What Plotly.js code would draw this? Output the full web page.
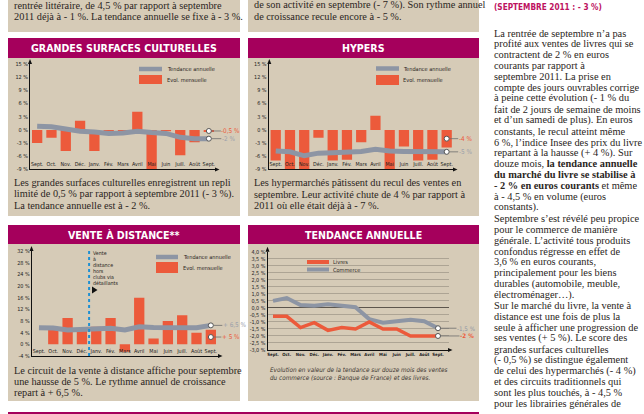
<!DOCTYPE html>
<html><head><meta charset="utf-8">
<script src="https://cdn.plot.ly/plotly-3.0.1.min.js"></script>
<style>html,body{margin:0;padding:0;background:#fff;overflow:hidden}#g{width:644px;height:414px}</style>
</head><body><div id="g"></div>
<script>
// ---------- data ----------
const months = ['Sept.','Oct.','Nov.','Déc.','Janv.','Fév.','Mars','Avril','Mai','Juin','Juill.','Août','Sept.'];
const gscMonthly = [-3,-1.8,-4.8,2.1,-4.8,-0.5,-0.5,4.1,-10,-0.3,-5.8,-2.8,-0.5];
const gscTrend   = [0.8,0.7,0.2,-0.3,-0.5,-0.8,-0.7,-0.3,-0.6,-0.8,-1.7,-2,-2];
const hypMonthly = [-7,-10,-10,-1.8,-7,-6.8,-2.8,3.2,-10,-3.8,-7,-6.8,-4];
const hypTrend   = [-4.8,-5,-5.9,-5.3,-5.2,-5.1,-4.9,-4.4,-4.8,-4.9,-4.9,-5,-5];
const vadMonthly = [null,5,9,5,6,9,-2.5,16,2,8,10,4,5];
const vadTrend   = [5.7,5.6,4.9,5.2,5.3,5.5,4.9,6,5.8,5.8,6.1,5.7,6.5];
const livres     = [-0.6,-0.6,-1.4,-1.05,-1.6,-1.4,-1.5,-1.0,-1.5,-1.5,-2,-2,-2];
const commerce   = [0.5,0.7,0.2,0.15,0.25,0.15,0.05,-0.8,-1.05,-0.95,-0.85,-0.95,-1.45];

const barTickVals = [15,12,9,6,3,0,-3,-6,-9];
const barTickText = ['15 %','12 %','9 %','6 %','3 %','0 %','-3 %','-6 %','-9 %'];
const vadTickVals = [32,28,24,20,16,12,8,4,0,-4];
const vadTickText = ['32 %','28 %','24 %','20 %','16 %','12 %','8 %','4 %','0 %','-4 %'];
const tendTickVals = [4,3.5,3,2.5,2,1.5,1,0.5,0,-0.5,-1,-1.5,-2,-2.5,-3];
const tendTickText = ['4,0 %','3,5 %','3,0 %','2,5 %','2,0 %','1,5 %','1,0 %','0,5 %','0,0 %','-0,5 %','-1,0 %','-1,5 %','-2,0 %','-2,5 %','-3,0 %'];

const topLeftLines = ['rentrée littéraire, de 4,5 % par rapport à septembre','2011 déjà à - 1 %. La tendance annuelle se fixe à - 3 %.'];
const topRightLines = ['de son activité en septembre (- 7 %). Son rythme annuel','de croissance recule encore à - 5 %.'];
const gscLines = ['Les grandes surfaces culturelles enregistrent un repli','limité de 0,5 % par rapport à septembre 2011 (- 3 %).','La tendance annuelle est à - 2 %.'];
const hypLines = ['Les hypermarchés pâtissent du recul des ventes en','septembre. Leur activité chute de 4 % par rapport à','2011 où elle était déjà à - 7 %.'];
const vadLines = ['Le circuit de la vente à distance affiche pour septembre','une hausse de 5 %. Le rythme annuel de croissance','repart à + 6,5 %.'];
const colLines = [
 'La rentrée de septembre n’a pas','profité aux ventes de livres qui se','contractent de 2 % en euros','courants par rapport à',
 'septembre 2011. La prise en','compte des jours ouvrables corrige','à peine cette évolution (- 1 % du','fait de 2 jours de semaine de moins',
 'et d’un samedi de plus). En euros','constants, le recul atteint même','6 %, l’indice Insee des prix du livre','repartant à la hausse (+ 4 %). Sur',
 'douze mois, <b>la tendance annuelle</b>','<b>du marché du livre se stabilise à</b>','<b>- 2 % en euros courants</b> et même','à - 4,5 % en volume (euros',
 'constants).','Septembre s’est révélé peu propice','pour le commerce de manière','générale. L’activité tous produits',
 'confondus régresse en effet de','3,6 % en euros courants,','principalement pour les biens','durables (automobile, meuble,',
 'électroménager…).','Sur le marché du livre, la vente à','distance est une fois de plus la','seule à afficher une progression de',
 'ses ventes (+ 5 %). Le score des','grandes surfaces culturelles','(- 0,5 %) se distingue également','de celui des hypermarchés (- 4 %)',
 'et des circuits traditionnels qui','sont les plus touchés, à - 4,5 %','pour les librairies générales de'];
const vadNote = ['Vente','à','distance','hors','clubs via','détaillants'];
const caption = ['Evolution en valeur de la tendance sur douze mois des ventes','du commerce (source : Banque de France) et des livres.'];

// ---------- font helpers ----------
const ctx=document.createElement('canvas').getContext('2d');
function avail(f){const s='GRANDES SURFACES mmmwwwiii 0123';let r=false;['monospace','serif'].forEach(fb=>{ctx.font='40px '+fb;const a=ctx.measureText(s).width;ctx.font='40px "'+f+'", '+fb;if(ctx.measureText(s).width!==a)r=true;});return r;}
const condName=['Liberation Sans Narrow','DejaVu Sans Condensed','Roboto Condensed','Arial Narrow','Open Sans Condensed'].find(avail);
const COND=condName?('"'+condName+'", Roboto, sans-serif'):'Roboto, "Liberation Sans", sans-serif';
const SERIF='"Liberation Serif", "DejaVu Serif", serif';
function fit(text,family,weight,target,style){ctx.font=(style||'normal')+' '+(weight||400)+' 100px '+family;return 100*target/ctx.measureText(text).width;}

const S_BAN = fit('GRANDES SURFACES CULTURELLES',COND,700,186);
const S_HEAD= fit('(SEPTEMBRE 2011 : - 3 %)',COND,700,108);
const S_COL = fit('compte des jours ouvrables corrige',SERIF,400,145.5);
const S_LEFT= fit('Les grandes surfaces culturelles enregistrent un repli',SERIF,400,217);
const S_LEG = fit('Tendance annuelle',COND,400,47);
const S_MON = fit('Sept.',COND,400,12.5);
const S_YT  = fit('15 %',COND,400,12.5);
const S_TT  = fit('4,0 %',COND,400,14);
const S_TM  = fit('Sept.',COND,700,11.5);
const S_CAP = fit(caption[0],COND,400,178,'italic');
const S_NOTE= fit('détaillants',COND,400,25);
const S_END = fit('-2 %',COND,400,13);
const S_END4= fit('-1,5 %',COND,400,18);

// ---------- layout helpers ----------
const W=644,H=414;
const X=v=>v/W, Y=v=>1-v/H;
const BEIGE='#d6cbb7', MAG='#a5005c', RED='#ec5a3b', GREY='#8d95a4', INK='#2a2522';
const idx = months.map((m,i)=>i);

const shapes=[], ann=[];
function rect(x0,y0,x1,y1,fill,layer){shapes.push({type:'rect',xref:'paper',yref:'paper',x0:X(x0),x1:X(x1),y0:Y(y1),y1:Y(y0),fillcolor:fill,line:{width:0},layer:layer||'below'});}
function hl(x0,x1,y,color,w){shapes.push({type:'line',xref:'paper',yref:'paper',x0:X(x0),x1:X(x1),y0:Y(y),y1:Y(y),line:{color:color,width:w},layer:'above'});}
function tri(pts,fill){shapes.push({type:'path',xref:'paper',yref:'paper',path:'M'+pts.map(p=>X(p[0])+','+Y(p[1])).join(' L')+' Z',fillcolor:fill||'#111',line:{width:0},layer:'above'});}
function T(x,y,text,o){o=o||{};ann.push({xref:'paper',yref:'paper',x:X(x),y:Y(y),text:text,showarrow:false,xanchor:o.xa||'left',yanchor:'middle',
  font:{family:o.family||SERIF,size:o.size||S_LEFT,color:o.color||INK,weight:o.weight||400,style:o.style||'normal'},borderpad:0});}
function endLbl(xr,yr,yv,text,color,ax,size,w){ann.push({xref:xr,yref:yr,x:12,y:yv,text:text,showarrow:true,arrowhead:0,arrowwidth:0.8,arrowcolor:'#6d6d6d',
  ax:ax,ay:0,standoff:2.5,font:{family:COND,size:size||S_END,color:color,weight:w||400},borderpad:0});}

// panels
[[8,-2,240,32],[248,-2,479,32],[8,58,240,216],[248,58,479,216],[8,244,240,401],[248,244,479,401]].forEach(r=>rect(r[0],r[1],r[2],r[3],BEIGE));
[[8,38,240,58],[248,38,479,58],[8,225,240,244],[248,225,479,244],[8,412,479,416]].forEach(r=>rect(r[0],r[1],r[2],r[3],MAG));

// banners
const BF={family:COND,size:S_BAN,color:'#fff',weight:700,xa:'center'};
T(124,48.5,'GRANDES SURFACES CULTURELLES',BF);
T(363.5,48.5,'HYPERS',BF);
T(124,235,'VENTE À DISTANCE**',BF);
T(363.5,235,'TENDANCE ANNUELLE',BF);

// texts
topLeftLines.forEach((t,i)=>T(13,5+i*12,t));
topRightLines.forEach((t,i)=>T(253,5+i*12,t));
gscLines.forEach((t,i)=>T(13,182.5+i*11.5,t));
hypLines.forEach((t,i)=>T(253,182.5+i*11.5,t));
vadLines.forEach((t,i)=>T(13,370+i*11.3,t));
T(493,7.5,'(SEPTEMBRE 2011 : - 3 %)',{family:COND,size:S_HEAD,color:'#bd125f',weight:700});
colLines.forEach((t,i)=>T(493,33+i*10.9,t,{size:S_COL}));
caption.forEach((t,i)=>T(269,369+i*8.5,t,{family:COND,size:S_CAP,style:'italic',color:'#3a3530'}));

// legends
const LF={family:COND,size:S_LEG};
hl(139,162,69,GREY,4.5); rect(139,75,162,84,RED,'above'); T(166,69,'Tendance annuelle',LF); T(166,80,'Evol. mensuelle',LF);
hl(376,399,68.5,GREY,4.5); rect(376,75,399,85,RED,'above'); T(402,69,'Tendance annuelle',LF); T(402,80,'Evol. mensuelle',LF);
hl(156,178,257,GREY,4.5); rect(156,262,178,273,RED,'above'); T(182,257,'Tendance annuelle',LF); T(182,267.5,'Evol. mensuelle',LF);
hl(307,329,262,RED,4); hl(307,329,269.5,GREY,4); T(332,262,'Livres',LF); T(332,269.5,'Commerce',LF);

// vad note
vadNote.forEach((t,i)=>T(92,253+i*6,t,{family:COND,size:S_NOTE}));
tri([[92,286.5],[92,293.5],[97.5,290]]);
shapes.push({type:'line',xref:'x3',yref:'paper',x0:3.5,x1:3.5,y0:Y(356),y1:Y(249),line:{color:'#1e8fd2',width:2,dash:'dot'},layer:'above'});

// axis arrows
tri([[28,64],[32,64],[30,59]]); tri([[215,167.4],[215,171.4],[219.5,169.4]]);
tri([[267.3,64],[271.3,64],[269.3,59]]); tri([[453,167.4],[453,171.4],[457.5,169.4]]);
tri([[29.5,251],[33.5,251],[31.5,246]]); tri([[218,354],[218,358],[222.5,356]]);
tri([[265.5,251.7],[269.5,251.7],[267.5,246.7]]); tri([[448,348],[448,352],[452.5,350]]);

// end labels
endLbl('x','y',gscMonthly[12]/2,'-0,5 %',RED,22);
endLbl('x','y',gscTrend[12],'-2 %','#9aa0aa',20);
endLbl('x2','y2',hypMonthly[12]/2,'-4 %',RED,19);
endLbl('x2','y2',hypTrend[12],'-5 %','#9aa0aa',19);
endLbl('x3','y3',vadTrend[12],'+ 6,5 %','#9aa0aa',24);
endLbl('x3','y3',vadMonthly[12]/2,'+ 5 %',RED,20);
endLbl('x4','y4',commerce[12],'-1,5 %','#8d95a4',28,S_END4);
endLbl('x4','y4',livres[12],'-2 %',RED,29,S_END4,700);

// ---------- traces ----------
const mk={size:5,color:'#fff',line:{color:'#555',width:1}};
const traces=[
 {type:'bar',x:idx,y:gscMonthly,xaxis:'x',yaxis:'y',marker:{color:RED}},
 {type:'scatter',mode:'lines',x:idx,y:gscTrend,xaxis:'x',yaxis:'y',line:{color:GREY,width:5}},
 {type:'scatter',mode:'markers',x:[12,12],y:[gscMonthly[12]/2,gscTrend[12]],xaxis:'x',yaxis:'y',marker:mk,cliponaxis:false},
 {type:'bar',x:idx,y:hypMonthly,xaxis:'x2',yaxis:'y2',marker:{color:RED}},
 {type:'scatter',mode:'lines',x:idx,y:hypTrend,xaxis:'x2',yaxis:'y2',line:{color:GREY,width:5}},
 {type:'scatter',mode:'markers',x:[12,12],y:[hypMonthly[12]/2,hypTrend[12]],xaxis:'x2',yaxis:'y2',marker:mk,cliponaxis:false},
 {type:'bar',x:idx,y:vadMonthly,xaxis:'x3',yaxis:'y3',marker:{color:RED}},
 {type:'scatter',mode:'lines',x:idx,y:vadTrend,xaxis:'x3',yaxis:'y3',line:{color:GREY,width:5}},
 {type:'scatter',mode:'markers',x:[12,12],y:[vadMonthly[12]/2,vadTrend[12]],xaxis:'x3',yaxis:'y3',marker:mk,cliponaxis:false},
 {type:'scatter',mode:'lines',x:idx,y:commerce,xaxis:'x4',yaxis:'y4',line:{color:GREY,width:4}},
 {type:'scatter',mode:'lines',x:idx,y:livres,xaxis:'x4',yaxis:'y4',line:{color:RED,width:3.5}},
 {type:'scatter',mode:'markers',x:[12,12],y:[commerce[12],livres[12]],xaxis:'x4',yaxis:'y4',marker:mk,cliponaxis:false}
];

function xa(d0,d1,range,anchor,inside,font){return {domain:[X(d0),X(d1)],range:range,anchor:anchor,tickmode:'array',tickvals:idx,ticktext:months,tickangle:0,
  ticklabelposition:inside?'inside':'outside',ticklabeloverflow:'allow',ticks:'',showline:true,linecolor:'#111',linewidth:1,showgrid:false,zeroline:false,
  tickfont:font||{family:COND,size:S_MON,color:'#222'},fixedrange:true};}
function ya(top,bot,range,anchor,vals,text,grid,size){return {domain:[Y(bot),Y(top)],range:range,anchor:anchor,tickmode:'array',tickvals:vals,ticktext:text,
  ticks:'',showline:true,linecolor:'#111',linewidth:1,showgrid:!!grid,gridcolor:'#a39a8b',gridwidth:0.8,zeroline:!!grid,zerolinecolor:'#5d564d',zerolinewidth:1,
  tickfont:{family:COND,size:size||S_YT,color:'#222'},fixedrange:true};}

const layout={width:W,height:H,margin:{l:0,r:0,t:0,b:0},paper_bgcolor:'#fff',plot_bgcolor:'rgba(0,0,0,0)',showlegend:false,bargap:0.28,
 xaxis:xa(30,216,[-0.5,12.5],'y',true), yaxis:ya(64,169.4,[-9,15],'x',barTickVals,barTickText),
 xaxis2:xa(268.6,453.8,[-0.5,12.5],'y2',true), yaxis2:ya(64,169.4,[-9,15],'x2',barTickVals,barTickText),
 xaxis3:xa(31.8,218,[-0.5,12.5],'y3',true), yaxis3:ya(251,356,[-4,32],'x3',vadTickVals,vadTickText),
 xaxis4:xa(267.5,449,[-0.4,12.8],'y4',false,{family:COND,size:S_TM,color:'#222',weight:700}),
 yaxis4:ya(251.7,350,[-3,4],'x4',tendTickVals,tendTickText,true,S_TT),
 shapes:shapes, annotations:ann};
Plotly.newPlot('g',traces,layout,{staticPlot:true,displayModeBar:false});
</script></body></html>
